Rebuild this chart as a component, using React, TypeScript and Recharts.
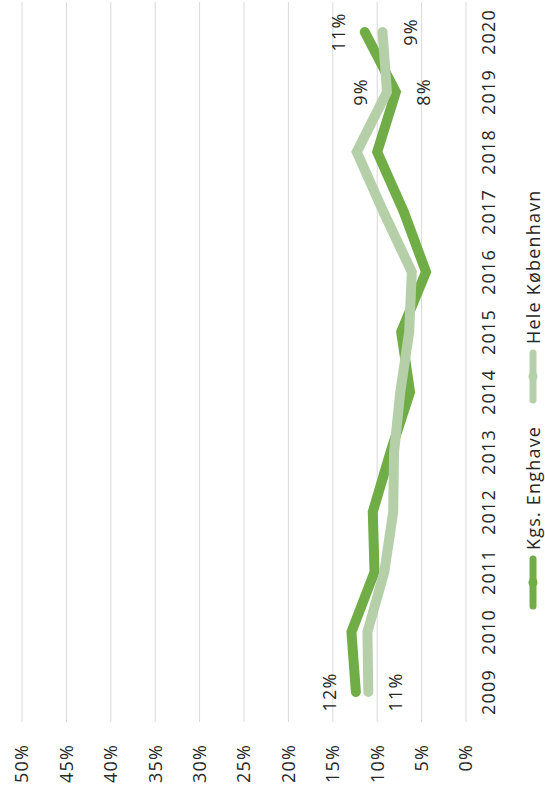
import { CartesianGrid, LabelList, Line, LineChart, XAxis, YAxis } from 'recharts';

const YEARS = ['2009', '2010', '2011', '2012', '2013', '2014', '2015', '2016', '2017', '2018', '2019', '2020'];
const KGS_ENGHAVE = [12.4, 12.9, 10.3, 10.5, 8.5, 6.3, 7.3, 4.5, 7.0, 10.0, 7.9, 11.4];
const HELE_KBH = [11.0, 11.1, 9.2, 8.2, 8.1, 7.4, 6.4, 6.1, 9.3, 12.3, 8.9, 9.4];
const PCT_TICKS = [0, 5, 10, 15, 20, 25, 30, 35, 40, 45, 50];

const SERIES = [
  { key: 'enghave', name: 'Kgs. Enghave', color: '#70ad47', values: KGS_ENGHAVE },
  { key: 'kbh', name: 'Hele København', color: '#b5d0a9', values: HELE_KBH },
];

// which years get a value label, and on which side of the line
const LABEL_SIDE: Record<string, Record<string, 'up' | 'down'>> = {
  enghave: { '2009': 'up', '2019': 'down', '2020': 'up' },
  kbh: { '2009': 'down', '2019': 'up', '2020': 'down' },
};

const FONT = '"Open Sans", sans-serif';
const TEXT = '#262626';
const FONT_SIZE = 18;
const SPACING = 1.2;

const data = YEARS.map((year, i) => ({
  year,
  enghave: KGS_ENGHAVE[i],
  kbh: HELE_KBH[i],
}));

const tickStyle = { fontSize: FONT_SIZE, fontFamily: FONT, fill: TEXT, letterSpacing: SPACING };

function makeLabel(seriesKey: string) {
  return (props: any) => {
    const { x, y, value, index } = props;
    const side = LABEL_SIDE[seriesKey][YEARS[index]];
    if (!side) return null;
    return (
      <text
        x={x}
        y={side === 'up' ? y - 27 : y + 27}
        textAnchor="middle"
        dominantBaseline="central"
        fontSize={FONT_SIZE}
        fontFamily={FONT}
        letterSpacing={SPACING}
        fill={TEXT}
      >
        {Math.round(value)}%
      </text>
    );
  };
}

function LegendItem({ name, color, left }: { name: string; color: string; left: number }) {
  return (
    <div
      style={{
        position: 'absolute',
        left,
        top: 533 - 8,
        height: 16,
        lineHeight: '16px',
        display: 'flex',
        alignItems: 'center',
        gap: 5,
        whiteSpace: 'nowrap',
      }}
    >
      <svg width={55} height={14} style={{ flex: 'none' }}>
        <line x1={4} y1={7} x2={51} y2={7} stroke={color} strokeWidth={7} strokeLinecap="round" />
        <circle cx={27.5} cy={7} r={4.5} fill={color} />
      </svg>
      <span>{name}</span>
    </div>
  );
}

export default function App() {
  return (
    <div
      style={{
        position: 'absolute',
        left: 0,
        top: 0,
        width: 545,
        height: 798,
        overflow: 'hidden',
        background: '#fff',
        fontFamily: FONT,
      }}
    >
      <div
        style={{
          position: 'absolute',
          left: 0,
          top: 0,
          width: 798,
          height: 545,
          transformOrigin: '0 0',
          transform: 'translateY(798px) rotate(-90deg)',
        }}
      >
        <LineChart width={798} height={545} data={data} margin={{ top: 22, right: 2, left: 0, bottom: 0 }}>
          <CartesianGrid vertical={false} stroke="#d9d9d9" />
          <XAxis
            dataKey="year"
            height={79}
            padding={{ left: 30, right: 30 }}
            tickLine={false}
            axisLine={false}
            tickSize={0}
            tickMargin={16}
            interval={0}
            tick={tickStyle}
          />
          <YAxis
            width={76}
            domain={[0, 50]}
            ticks={PCT_TICKS}
            tickFormatter={(v) => `${v}%`}
            tickLine={false}
            axisLine={false}
            tickSize={0}
            tickMargin={22}
            tick={tickStyle}
          />
          {SERIES.map((s) => (
            <Line
              key={s.key}
              type="linear"
              dataKey={s.key}
              name={s.name}
              stroke={s.color}
              strokeWidth={10}
              strokeLinecap="round"
              strokeLinejoin="miter"
              dot={false}
              activeDot={false}
              isAnimationActive={false}
            >
              <LabelList dataKey={s.key} content={makeLabel(s.key)} />
            </Line>
          ))}
        </LineChart>
        <div style={{ fontSize: FONT_SIZE, color: TEXT, letterSpacing: SPACING }}>
          <LegendItem name={SERIES[0].name} color={SERIES[0].color} left={188} />
          <LegendItem name={SERIES[1].name} color={SERIES[1].color} left={394} />
        </div>
      </div>
    </div>
  );
}
